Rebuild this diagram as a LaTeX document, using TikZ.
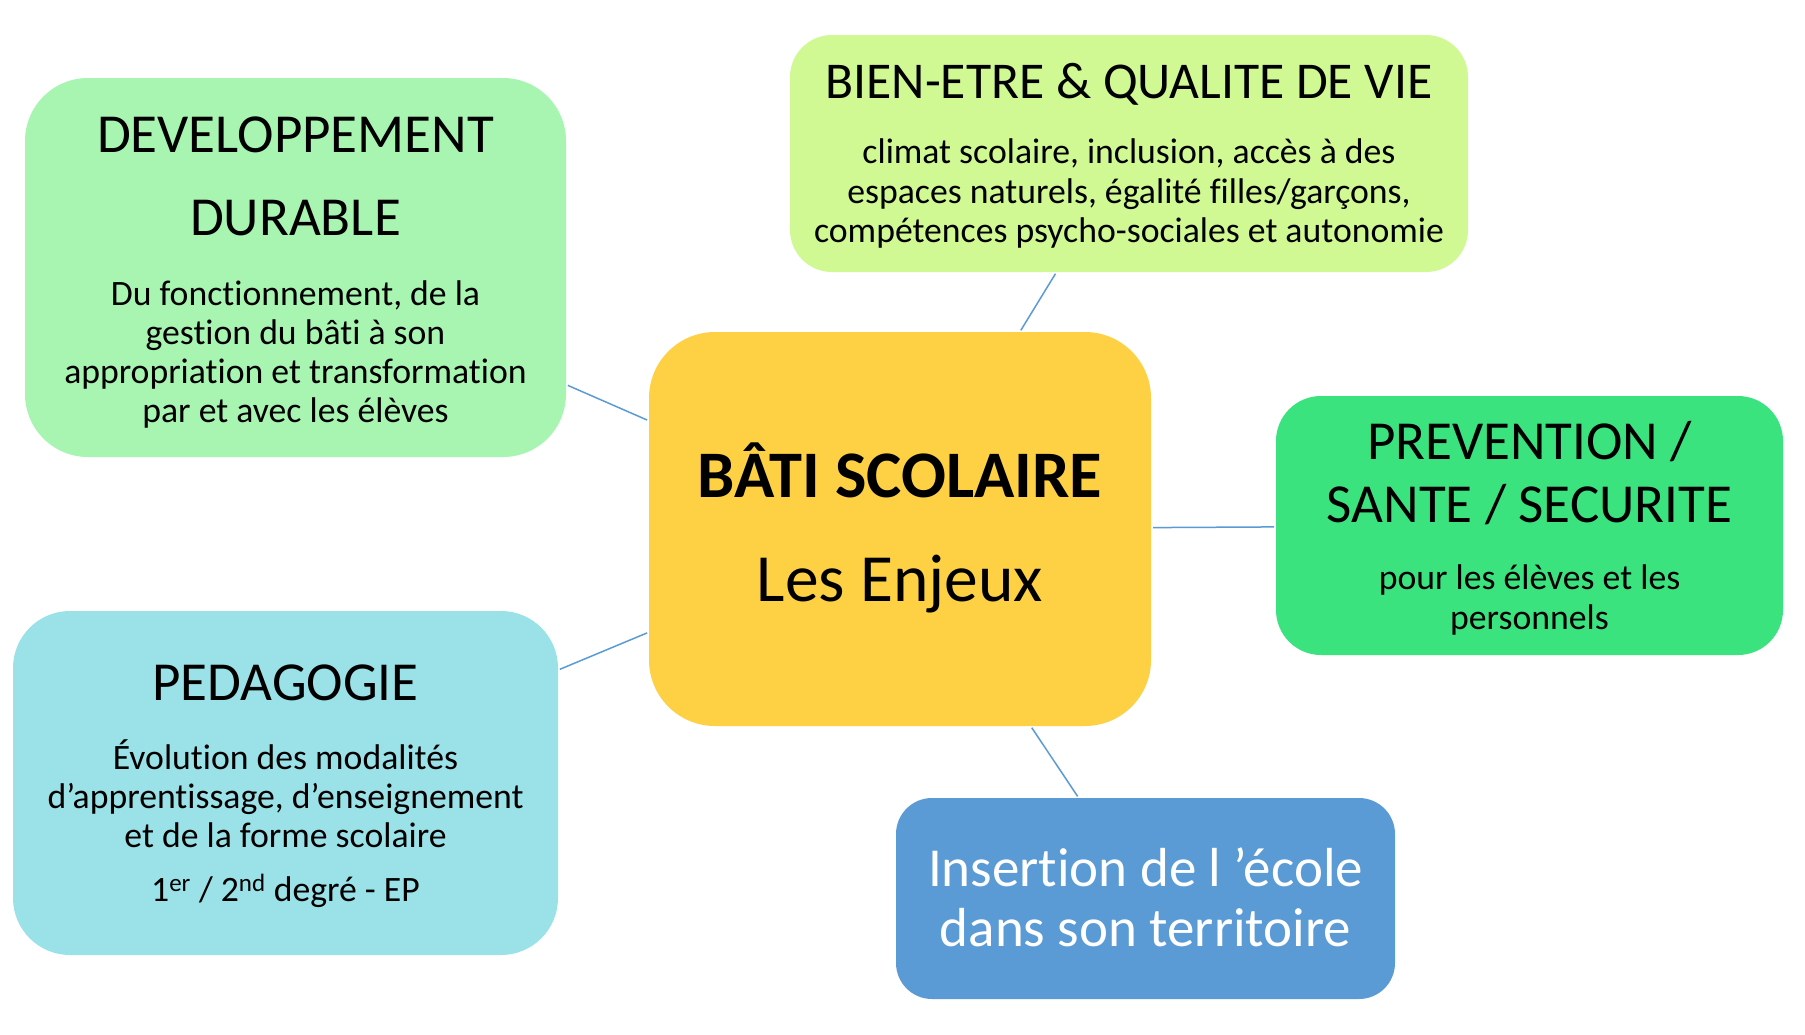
\documentclass[tikz,border=0pt]{standalone}
\usepackage{fontspec}
\setmainfont{Carlito}[Ligatures={NoCommon}, RawFeature={-liga;-clig;-calt;-dlig}]
\definecolor{ddcol}{HTML}{A8F5B2}
\definecolor{becol}{HTML}{D0F994}
\definecolor{ctrcol}{HTML}{FED145}
\definecolor{psscol}{HTML}{3BE37F}
\definecolor{pedcol}{HTML}{9AE2E8}
\definecolor{inscol}{HTML}{5B9BD5}
\definecolor{linecol}{HTML}{5B9BD5}
\begin{document}
\begin{tikzpicture}[x=1pt,y=-1pt,
  box/.style={rounded corners=#1, inner sep=0pt, outer sep=0pt, draw=none},
  txt/.style={anchor=base, inner sep=0pt, outer sep=0pt},
  ttl/.style={txt, font=\fontsize{55}{66}\selectfont},
  bdy/.style={txt, font=\fontsize{35.7}{42}\selectfont},
  conn/.style={draw=linecol, line width=1.5pt, shorten <=2pt, shorten >=2pt}]
\fill[white] (0,0) rectangle (1805,1034);
\useasboundingbox (0,0) rectangle (1805,1034);
% boxes
\node[box=63pt, fill=ddcol, minimum width=541pt, minimum height=379pt] (dd) at (295.5,267.5) {};
\node[box=42pt, fill=becol, minimum width=678pt, minimum height=237pt] (be) at (1129,153.5) {};
\node[box=66pt, fill=ctrcol, minimum width=502pt, minimum height=394pt] (ctr) at (900,529) {};
\node[box=45pt, fill=psscol, minimum width=507pt, minimum height=259pt] (pss) at (1529.5,525.5) {};
\node[box=57pt, fill=pedcol, minimum width=545pt, minimum height=344pt] (ped) at (285.5,783) {};
\node[box=36pt, fill=inscol, minimum width=499pt, minimum height=201pt] (ins) at (1145.5,898.5) {};
% connectors
\draw[conn] (dd) -- (ctr);
\draw[conn] (be) -- (ctr);
\draw[conn] (pss) -- (ctr);
\draw[conn] (ped) -- (ctr);
\draw[conn] (ins) -- (ctr);
% texts: DD
\node[ttl] (ddt1) at (295.5,152) {DEVELOPPEMENT};
\node[ttl] (ddt2) at (295.5,235) {DURABLE};
\node[bdy] (ddb1) at (295.5,305) {Du fonctionnement, de la};
\node[bdy] (ddb2) at (295.5,344) {gestion du bâti à son};
\node[bdy] (ddb3) at (295.5,383) {appropriation et transformation};
\node[bdy] (ddb4) at (295.5,422) {par et avec les élèves};
% BE
\node[txt, font=\fontsize{51.6}{60}\selectfont] (bet1) at (1129,98) {BIEN-ETRE \& QUALITE DE VIE};
\node[bdy] (beb1) at (1129,163) {climat scolaire, inclusion, accès à des};
\node[bdy] (beb2) at (1129,203) {espaces naturels, égalité filles/garçons,};
\node[bdy] (beb3) at (1129,242) {compétences psycho-sociales et autonomie};
% center
\node[txt, font=\fontsize{66.5}{80}\selectfont\bfseries] (ctrt1) at (900,497) {BÂTI SCOLAIRE};
\node[txt, font=\fontsize{67.5}{80}\selectfont] (ctrt2) at (900,601) {Les Enjeux};
% PSS
\node[ttl] (psst1) at (1529.5,459) {PREVENTION /};
\node[ttl] (psst2) at (1529.5,522) {SANTE / SECURITE};
\node[bdy] (pssb1) at (1529.5,589) {pour les élèves et les};
\node[bdy] (pssb2) at (1529.5,629) {personnels};
% PED
\node[ttl] (pedt1) at (285.5,700) {PEDAGOGIE};
\node[bdy] (pedb1) at (285.5,769) {Évolution des modalités};
\node[bdy] (pedb2) at (285.5,808) {d’apprentissage, d’enseignement};
\node[bdy] (pedb3) at (285.5,847) {et de la forme scolaire};
\node[bdy] (pedb4) at (285.5,901) {1\textsuperscript{er} / 2\textsuperscript{nd} degré - EP};
% INS
\node[ttl, text=white] (inst1) at (1145.5,886) {Insertion de l ’école};
\node[ttl, text=white] (inst2) at (1145.5,946) {dans son territoire};
\end{tikzpicture}
\end{document}
